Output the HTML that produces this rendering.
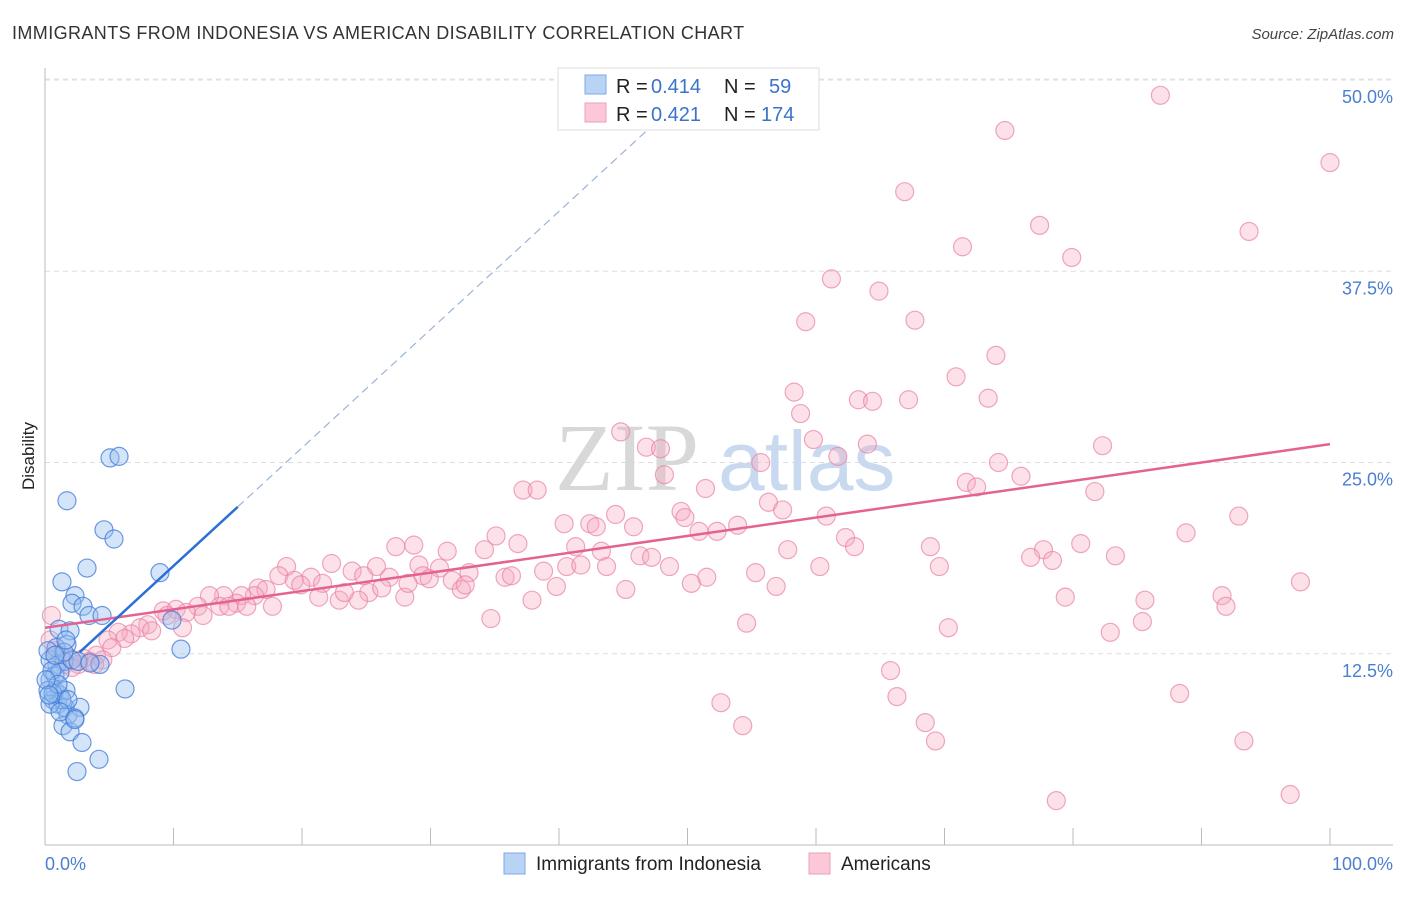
<!DOCTYPE html>
<html><head><meta charset="utf-8"><style>
body{margin:0;background:#fff;font-family:"Liberation Sans",sans-serif}
</style></head><body>
<svg id="chart" width="1406" height="892" xmlns="http://www.w3.org/2000/svg">
<text x="12" y="39" font-size="18" fill="#333" letter-spacing="0.4">IMMIGRANTS FROM INDONESIA VS AMERICAN DISABILITY CORRELATION CHART</text>
<text x="1394" y="39" font-size="15" fill="#444" font-style="italic" text-anchor="end">Source: ZipAtlas.com</text>
<g id="grid"></g>
<g><text x="555" y="490" font-size="96" font-family="Liberation Serif,serif" fill="#d8d8d8">ZIP</text><text x="718" y="490" font-size="84" fill="#c9daf0">atlas</text></g>
<g id="axes"></g>
<g id="pink"></g>
<g id="blue"></g>
<g id="trends"></g>
<text transform="translate(34,456) rotate(-90)" font-size="17" fill="#222" text-anchor="middle">Disability</text>
<g>
<rect x="558" y="68" width="261" height="62" fill="#fff" stroke="#ddd"/>
<rect x="585" y="75" width="21" height="19" fill="#b9d3f5" stroke="#7da8e6"/>
<rect x="585" y="103" width="21" height="19" fill="#fcc8d8" stroke="#ee9fb8"/>
<text x="616" y="93" font-size="20" fill="#222">R =</text><text x="651" y="93" font-size="20" fill="#3a73cc">0.414</text>
<text x="724" y="93" font-size="20" fill="#222">N =</text><text x="769" y="93" font-size="20" fill="#3a73cc">59</text>
<text x="616" y="121" font-size="20" fill="#222">R =</text><text x="651" y="121" font-size="20" fill="#3a73cc">0.421</text>
<text x="724" y="121" font-size="20" fill="#222">N =</text><text x="761" y="121" font-size="20" fill="#3a73cc">174</text>
</g>
<g>
<rect x="504" y="853" width="21" height="21" fill="#b9d3f5" stroke="#7da8e6"/>
<text x="536" y="870" font-size="19" fill="#222">Immigrants from Indonesia</text>
<rect x="809" y="853" width="21" height="21" fill="#fcc8d8" stroke="#ee9fb8"/>
<text x="841" y="870" font-size="19" fill="#222">Americans</text>
</g>
</svg>
<script>
const yTicks=[12.5,25,37.5,50];
const yTickLabels=["12.5%","25.0%","37.5%","50.0%"];
const xTicks=[0,10,20,30,40,50,60,70,80,90,100];
const blueX=[5.06,5.76,1.71,4.59,5.37,3.27,1.32,8.95,2.33,2.1,2.96,3.42,4.44,9.88,1.09,1.95,1.71,10.58,6.23,4.28,0.93,1.48,0.39,0.39,0.78,1.17,0.62,1.01,1.56,1.79,2.72,1.4,1.95,2.88,2.49,4.2,2.33,1.63,0.78,1.17,0.54,0.23,2.1,2.57,1.32,0.39,0.86,0.23,1.48,0.62,1.01,1.79,1.17,0.08,0.31,0.78,1.63,3.5,2.33];
const blueY=[25.3,25.4,22.5,20.6,20.0,18.1,17.2,17.8,16.3,15.8,15.6,15.0,15.0,14.7,14.1,14.0,13.1,12.8,10.2,11.8,11.8,12.0,12.1,10.8,10.1,9.8,9.5,9.2,9.0,8.5,9.0,7.8,7.4,6.7,4.8,5.6,8.3,10.1,11.1,11.3,11.4,10.1,12.1,12.0,9.5,9.2,12.9,12.7,12.6,9.9,10.5,9.5,8.7,10.8,9.8,12.4,13.4,11.9,8.2];
const pinkX=[86.8,74.7,100,66.9,77.4,93.7,71.4,79.9,61.2,64.9,59.2,67.7,74.0,70.9,58.3,63.3,64.4,67.2,73.4,58.8,44.8,59.8,46.8,47.9,64.0,82.3,61.7,55.7,48.2,74.2,75.95,71.7,72.5,81.7,37.2,38.3,51.4,56.3,44.4,49.5,49.8,57.4,60.8,92.9,40.4,42.4,42.9,45.8,50.9,52.3,53.9,88.8,35.1,34.2,36.8,62.3,63.0,57.8,41.3,43.3,46.3,47.2,68.9,80.6,83.3,77.7,76.7,78.4,27.3,28.7,31.3,22.3,18.8,25.8,29.1,30.7,33.0,38.8,40.6,41.7,43.7,48.6,55.3,60.3,69.6,23.9,24.8,26.8,29.4,29.9,31.7,35.8,36.3,18.2,20.7,19.4,21.6,19.9,51.5,50.3,56.9,97.7,16.6,17.2,16.3,15.3,13.9,12.8,14.9,11.9,13.6,14.3,15.7,17.7,21.3,22.9,23.3,25.2,26.2,28.0,24.4,28.25,32.4,32.7,37.9,39.8,45.2,79.4,85.6,91.6,91.9,9.2,10.2,11.0,12.3,9.5,34.7,8.0,10.7,7.4,8.3,6.7,5.7,54.6,70.3,82.9,85.4,6.2,4.9,5.2,4.0,3.0,1.95,1.2,1.5,2.6,3.5,4.5,2.1,3.85,0.5,0.4,0.8,65.8,66.3,52.6,68.5,54.3,69.3,88.3,93.3,78.7,96.9];
const pinkY=[49.0,46.7,44.6,42.7,40.5,40.1,39.1,38.4,37.0,36.2,34.2,34.3,32.0,30.6,29.6,29.1,29.0,29.1,29.2,28.2,27.0,26.5,26.0,25.9,26.2,26.1,25.4,25.0,24.2,25.0,24.1,23.7,23.4,23.1,23.2,23.2,23.3,22.4,21.6,21.8,21.4,21.9,21.5,21.5,21.0,21.0,20.8,20.8,20.5,20.5,20.9,20.4,20.2,19.3,19.7,20.1,19.5,19.3,19.5,19.2,18.9,18.8,19.5,19.7,18.9,19.3,18.8,18.6,19.5,19.6,19.2,18.4,18.2,18.2,18.3,18.1,17.8,17.9,18.2,18.3,18.2,18.2,17.8,18.2,18.2,17.9,17.6,17.5,17.6,17.4,17.3,17.5,17.6,17.6,17.5,17.3,17.1,17.0,17.5,17.1,16.9,17.2,16.8,16.7,16.3,16.3,16.3,16.3,15.8,15.6,15.6,15.6,15.6,15.6,16.2,16.0,16.5,16.5,16.8,16.2,16.0,17.1,16.7,17.0,16.0,16.9,16.7,16.2,16.0,16.3,15.6,15.3,15.4,15.2,15.0,15.0,14.8,14.4,14.2,14.2,14.0,13.8,13.9,14.5,14.2,13.9,14.6,13.5,13.4,12.9,12.4,12.2,12.2,12.4,11.8,11.8,12.0,12.1,11.6,11.8,15.0,13.4,12.7,11.4,9.7,9.3,8.0,7.8,6.8,9.9,6.8,2.9,3.3];
const blueTrendX=[2.7,15,47.1];
const blueTrendY=[12.6,22.1,46.9];
const pinkTrendX=[0,100];
const pinkTrendY=[14.2,26.2];

const NS="http://www.w3.org/2000/svg";
const X0=45,X1=1330,Y0=845,PPY=15.3;
const sx=v=>X0+(X1-X0)*v/100;
const sy=v=>Y0-v*PPY;
function mk(tag,attrs,parent){const e=document.createElementNS(NS,tag);for(const k in attrs)e.setAttribute(k,attrs[k]);parent.appendChild(e);return e;}
const grid=document.getElementById('grid'),axes=document.getElementById('axes');
yTicks.forEach((t,i)=>{
  const l=mk('line',{x1:45,x2:1393,y1:sy(t),y2:sy(t),stroke:'#ddd','stroke-dasharray':'5,4'},grid);
  
  
  const tx=mk('text',{x:1393,y:sy(t)+23,'font-size':18,fill:'#4a7fd0','text-anchor':'end'},axes);
  tx.textContent=yTickLabels[i];
  
  
});
const topl=mk('line',{x1:45,x2:1393,y1:79,y2:79,stroke:'#e4e4e4','stroke-dasharray':'5,4'},grid);


const ya=mk('line',{x1:45,x2:45,y1:68,y2:845,stroke:'#bbb'},axes);


const xa=mk('line',{x1:45,x2:1393,y1:845,y2:845,stroke:'#bbb'},axes);


xTicks.forEach(t=>{
  const l=mk('line',{x1:sx(t),x2:sx(t),y1:828,y2:845,stroke:'#bbb'},axes);
  
  
});
const xl0=mk('text',{x:45,y:870,'font-size':18,fill:'#4a7fd0'},axes);xl0.textContent='0.0%';


const xl1=mk('text',{x:1393,y:870,'font-size':18,fill:'#4a7fd0','text-anchor':'end'},axes);xl1.textContent='100.0%';


const pg=document.getElementById('pink');
pinkX.forEach((v,i)=>{
  const c=mk('circle',{cx:sx(v),cy:sy(pinkY[i]),r:9,fill:'rgba(245,168,192,0.35)',stroke:'rgba(232,130,165,0.7)','stroke-width':1.2},pg);
  
  
});
const bg=document.getElementById('blue');
blueX.forEach((v,i)=>{
  const c=mk('circle',{cx:sx(v),cy:sy(blueY[i]),r:9,fill:'rgba(150,190,240,0.4)',stroke:'rgba(60,120,215,0.75)','stroke-width':1.2},bg);
  
  
});
const tg=document.getElementById('trends');
const pt=mk('line',{x1:sx(pinkTrendX[0]),y1:sy(pinkTrendY[0]),x2:sx(pinkTrendX[1]),y2:sy(pinkTrendY[1]),stroke:'#e4628f','stroke-width':2.5},tg);


const bt=mk('line',{x1:sx(blueTrendX[0]),y1:sy(blueTrendY[0]),x2:sx(blueTrendX[1]),y2:sy(blueTrendY[1]),stroke:'#2a6fd6','stroke-width':2.5},tg);


const bd=mk('line',{x1:sx(blueTrendX[1]),y1:sy(blueTrendY[1]),x2:sx(blueTrendX[2]),y2:sy(blueTrendY[2]),stroke:'#9ab3d6','stroke-width':1.2,'stroke-dasharray':'8,5'},tg);


</script>
</body></html>
